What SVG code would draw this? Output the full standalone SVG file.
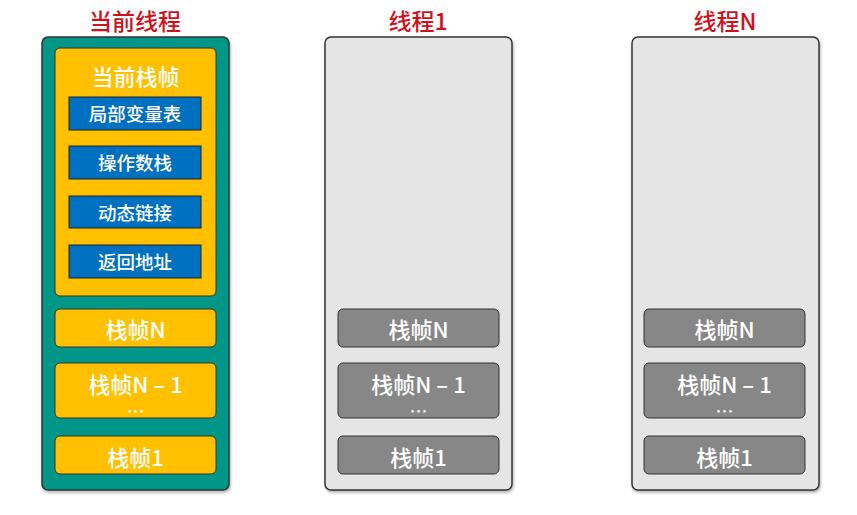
<svg xmlns="http://www.w3.org/2000/svg" width="857" height="515" viewBox="0 0 857 515">
<defs>
<filter id="sh" x="-10%" y="-10%" width="130%" height="130%">
<feDropShadow dx="1" dy="2" stdDeviation="1.5" flood-color="#000" flood-opacity="0.3"/>
</filter>
<style>
text{font-family:"Noto Sans CJK SC","Noto Sans",sans-serif;text-anchor:middle;dominant-baseline:central;font-weight:500}
.title{fill:#d0111b;font-size:23px}
.thread{stroke:#333;stroke-width:1.5}
.cur{fill:#009688}
.oth{fill:#e5e5e5}
.yb{fill:#ffc000;stroke:#333;stroke-width:1}
.gb{fill:#878787;stroke:#333;stroke-width:1}
.bb{fill:#0070c0;stroke:#222;stroke-width:1}
.wt{fill:#fff;font-size:22px}
.st{fill:#fff;font-size:18.5px}
.dots{fill:#fff;font-size:18px}
</style>
</defs>
<g id="current-thread">
<text class="title" x="135" y="20" font-weight="bold" font-size="24">当前线程</text>
<rect class="thread cur" x="42" y="37" width="187" height="453" rx="6" filter="url(#sh)"/>
<g id="current-frame">
<rect class="yb" x="55" y="48" width="161" height="248" rx="5"/>
<text class="wt" x="135.5" y="75" font-size="24">当前栈帧</text>
<rect class="bb" x="69" y="97" width="132" height="33"/>
<text class="st" x="135" y="113">局部变量表</text>
<rect class="bb" x="69" y="146" width="132" height="33"/>
<text class="st" x="135" y="162">操作数栈</text>
<rect class="bb" x="69" y="196" width="132" height="32"/>
<text class="st" x="135" y="211.5">动态链接</text>
<rect class="bb" x="69" y="245" width="132" height="33"/>
<text class="st" x="135" y="261">返回地址</text>
</g>
<g id="cur-frameN">
<rect class="yb" x="55" y="309" width="161" height="38" rx="5"/>
<text class="wt" x="135.5" y="327.5">栈帧N</text>
</g>
<g id="cur-frameN-1">
<rect class="yb" x="55" y="363" width="161" height="55" rx="5"/>
<text class="wt" x="135.5" y="382.5">栈帧N – 1</text>
<text class="dots" x="135.5" y="410">…</text>
</g>
<g id="cur-frame1">
<rect class="yb" x="55" y="436" width="161" height="38" rx="5"/>
<text class="wt" x="135.5" y="455.5">栈帧1</text>
</g>
</g>
<g id="thread-1">
<text class="title" x="418" y="20">线程1</text>
<rect class="thread oth" x="325" y="37" width="187" height="453" rx="6" filter="url(#sh)"/>
<rect class="gb" x="338" y="309" width="161" height="38" rx="5"/>
<text class="wt" x="418.5" y="327.5">栈帧N</text>
<rect class="gb" x="338" y="363" width="161" height="55" rx="5"/>
<text class="wt" x="418.5" y="382.5">栈帧N – 1</text>
<text class="dots" x="418.5" y="410">…</text>
<rect class="gb" x="338" y="436" width="161" height="38" rx="5"/>
<text class="wt" x="418.5" y="455.5">栈帧1</text>
</g>
<g id="thread-N">
<text class="title" x="725" y="20">线程N</text>
<rect class="thread oth" x="632" y="37" width="187" height="453" rx="6" filter="url(#sh)"/>
<rect class="gb" x="644" y="309" width="161" height="38" rx="5"/>
<text class="wt" x="724.5" y="327.5">栈帧N</text>
<rect class="gb" x="644" y="363" width="161" height="55" rx="5"/>
<text class="wt" x="724.5" y="382.5">栈帧N – 1</text>
<text class="dots" x="724.5" y="410">…</text>
<rect class="gb" x="644" y="436" width="161" height="38" rx="5"/>
<text class="wt" x="724.5" y="455.5">栈帧1</text>
</g>
<g id="connectors"/>
</svg>
